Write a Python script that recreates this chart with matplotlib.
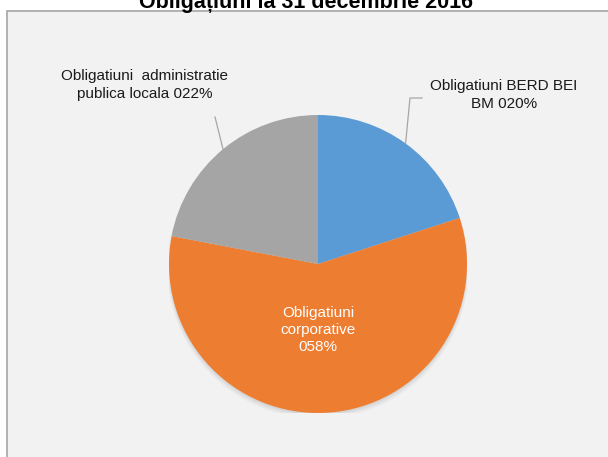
import numpy as np
import matplotlib
matplotlib.use("Agg")
import matplotlib.pyplot as plt
from matplotlib.patches import Rectangle, Circle

plt.rcParams['font.family'] = ['Liberation Sans', 'DejaVu Sans']

# data
categories = ["Obligatiuni BERD BEI BM", "Obligatiuni corporative",
              "Obligatiuni  administratie publica locala"]
shares = [20, 58, 22]
colors = ["#5B9BD5", "#ED7D31", "#A5A5A5"]
title = "Obligațiuni la 31 decembrie 2016"

W, H = 608, 457
fig = plt.figure(figsize=(W / 100, H / 100), dpi=100)
fig.patch.set_facecolor("white")

# chart area frame (cut by the image edges right and bottom)
frame = Rectangle((7 / W, -0.1), 1.0, (H - 11) / H + 0.1, transform=fig.transFigure,
                  facecolor="#F2F2F2", edgecolor="#A6A6A6", lw=1.2, zorder=-10)
fig.patches.append(frame)

fig.text(306 / W, (H - 8) / H, title, ha="center", va="baseline",
         fontsize=15.5, fontweight="bold", color="black")

# pie axes: centre (318, 264) px, radius 149 px
R = 149
cx, cy = 318, 264
ax = fig.add_axes([(cx - R) / W, (H - cy - R) / H, 2 * R / W, 2 * R / H])
ax.patch.set_visible(False)

# soft shadow
for i, a in enumerate([0.05, 0.04, 0.03]):
    ax.add_patch(Circle((0, -0.012 - 0.008 * i), 1.0 + 0.006 * i, facecolor="black",
                        alpha=a, lw=0, zorder=0))

wedges, _ = ax.pie(shares, colors=colors, startangle=90, counterclock=False,
                   radius=1, wedgeprops=dict(linewidth=0), frame=False)
ax.set_xlim(-1, 1)
ax.set_ylim(-1, 1)
ax.set_aspect("equal")
ax.axis("off")


def px(dx, dy):
    # pixel offsets -> data units
    return dx / R, -dy / R


def edge(w):
    ang = np.deg2rad((w.theta1 + w.theta2) / 2)
    return np.cos(ang), np.sin(ang)


lc = "#A6A6A6"
txt = dict(ha="center", va="center", fontsize=11, linespacing=1.3, clip_on=False)

# blue slice label with elbow leader
ex, ey = edge(wedges[0])
bx, by = px(410 - cx, 98 - cy)
ax.plot([ex, bx, px(422 - cx, 0)[0]], [ey, by, by], color=lc, lw=0.9, zorder=3,
        clip_on=False)
tx, ty = px(504 - cx, 95 - cy)
ax.text(tx, ty, f"Obligatiuni BERD BEI\nBM {shares[0]:03d}%", color="#1a1a1a", **txt)

# gray slice label
ex, ey = edge(wedges[2])
sx, sy = px(215 - cx, 117 - cy)
ax.plot([ex, sx], [ey, sy], color=lc, lw=0.9, zorder=3, clip_on=False)
tx, ty = px(145 - cx, 85 - cy)
ax.text(tx, ty, f"Obligatiuni  administratie\npublica locala {shares[2]:03d}%",
        color="#1a1a1a", **txt)

# orange slice label inside
tx, ty = px(318 - cx, 330 - cy)
ax.text(tx, ty, f"Obligatiuni\ncorporative\n{shares[1]:03d}%", color="white", **txt)

fig.savefig("out.png", dpi=100)
